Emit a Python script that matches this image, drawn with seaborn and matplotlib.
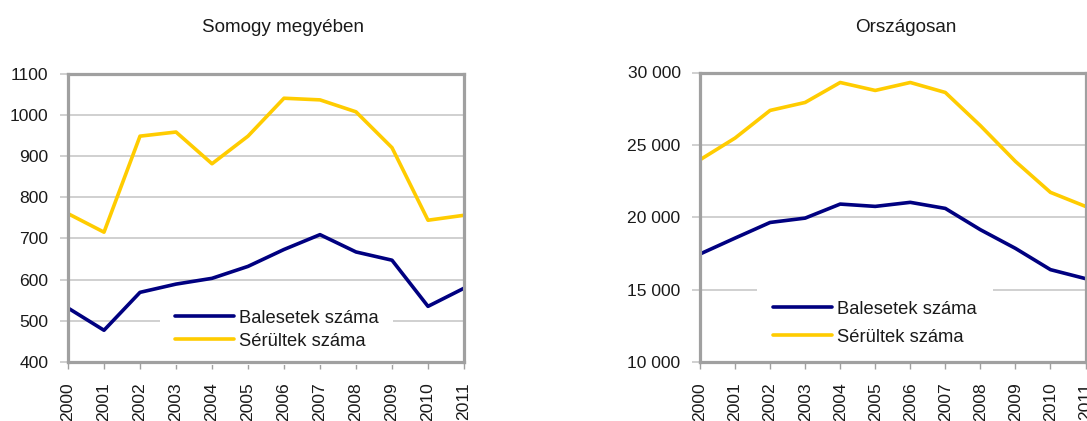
import pandas as pd
import numpy as np
import matplotlib
matplotlib.use("Agg")
import matplotlib.pyplot as plt
import seaborn as sns
from matplotlib import font_manager
from matplotlib.ticker import FuncFormatter

# ===== DATA =====
years = [2000, 2001, 2002, 2003, 2004, 2005, 2006, 2007, 2008, 2009, 2010, 2011]
series_names = ["Balesetek száma", "Sérültek száma"]

somogy_balesetek = [531, 477, 569, 589, 603, 632, 673, 709, 667, 647, 535, 579]
somogy_serultek = [760, 715, 948, 958, 881, 948, 1040, 1036, 1007, 920, 744, 756]

orszag_balesetek = [17460, 18560, 19640, 19940, 20910, 20750, 21030, 20610, 19140, 17850, 16380, 15760]
orszag_serultek = [23970, 25470, 27380, 27930, 29310, 28760, 29310, 28620, 26330, 23860, 21720, 20750]

titles = ["Somogy megyében", "Országosan"]

# ===== STYLE =====
sns.set_theme(style="white")
installed = {f.name for f in font_manager.fontManager.ttflist}
NARROW = "Liberation Sans Narrow" in installed
narrow_fam = ["Liberation Sans Narrow", "Liberation Sans", "DejaVu Sans"] if NARROW else ["Liberation Sans", "DejaVu Sans"]
plt.rcParams["font.family"] = ["Liberation Sans", "DejaVu Sans"]
tick_size = 15 if NARROW else 12.6
leg_size = 16 if NARROW else 13.2
txt_col = "#1a1a1a"
frame_col = "#a0a0a0"
grid_col = "#c8c8c8"
palette = {"Balesetek száma": "#000080", "Sérültek száma": "#ffcc00"}

W, H = 1087, 421
fig = plt.figure(figsize=(W / 100, H / 100), dpi=100)


def px(x0, y0, x1, y1):
    # pixel box -> figure fraction rect
    return [x0 / W, 1 - y1 / H, (x1 - x0) / W, (y1 - y0) / H]


def long_df(a, b):
    return pd.DataFrame({
        "year": years * 2,
        "value": a + b,
        "series": [series_names[0]] * len(years) + [series_names[1]] * len(years),
    })


def draw(ax, df, ylim, step, fmt, leg_xy, spacing, bpad):
    sns.lineplot(data=df, x="year", y="value", hue="series", palette=palette,
                 linewidth=2.6, ax=ax, legend="auto")
    handles, labels = ax.get_legend_handles_labels()
    ax.get_legend().remove()

    ax.set_xlim(years[0], years[-1])
    ax.set_ylim(*ylim)
    ax.set_yticks(np.arange(ylim[0], ylim[1] + 1, step))
    ax.set_xticks(years)
    ax.set_xticklabels([str(y) for y in years], rotation=90)
    ax.yaxis.set_major_formatter(FuncFormatter(fmt))
    ax.set_xlabel("")
    ax.set_ylabel("")

    ax.grid(axis="y", color=grid_col, linewidth=1.2)
    ax.grid(axis="x", visible=False)
    ax.set_axisbelow(True)
    for s in ax.spines.values():
        s.set_visible(True)
        s.set_color(frame_col)
        s.set_linewidth(2.3)
        s.set_zorder(3)

    ax.tick_params(axis="y", left=True, length=5.5, width=1.2, color=grid_col,
                   pad=8.5, labelsize=tick_size, labelcolor=txt_col)
    ax.tick_params(axis="x", bottom=True, length=5, width=1, color=frame_col,
                   pad=9.5, labelsize=tick_size, labelcolor=txt_col)
    for lab in ax.get_xticklabels() + ax.get_yticklabels():
        lab.set_family(narrow_fam)

    leg = ax.legend(handles, labels, loc="upper left",
                    bbox_to_anchor=(leg_xy[0] / W, 1 - leg_xy[1] / H),
                    bbox_transform=fig.transFigure,
                    frameon=True, fancybox=False, framealpha=1,
                    facecolor="white", edgecolor="none",
                    prop={"family": narrow_fam, "size": leg_size},
                    handlelength=3.2, handletextpad=0.3,
                    labelspacing=spacing, borderpad=bpad, borderaxespad=0)
    leg.set_zorder(2.3)
    for t in leg.get_texts():
        t.set_color(txt_col)
    for l in leg.get_lines():
        l.set_linewidth(2.6)


fs_px = leg_size * 100 / 72

ax1 = fig.add_axes(px(68, 73.5, 464, 362))
draw(ax1, long_df(somogy_balesetek, somogy_serultek), (400, 1100), 100,
     lambda v, p: f"{int(v)}", (175 - 0.8 * fs_px, 297 - 0.1 * fs_px), 0.33, 0.8)

ax2 = fig.add_axes(px(700, 72.5, 1085.5, 362))
draw(ax2, long_df(orszag_balesetek, orszag_serultek), (10000, 30000), 5000,
     lambda v, p: f"{int(v):,}".replace(",", " "), (773 - 0.9 * fs_px, 288 - 0.2 * fs_px), 0.6, 0.9)

fig.text(283 / W, 1 - 27 / H, titles[0], ha="center", va="center",
         fontsize=13.6, color=txt_col)
fig.text(906 / W, 1 - 27 / H, titles[1], ha="center", va="center",
         fontsize=13.6, color=txt_col)

fig.savefig("out.png", dpi=100)
